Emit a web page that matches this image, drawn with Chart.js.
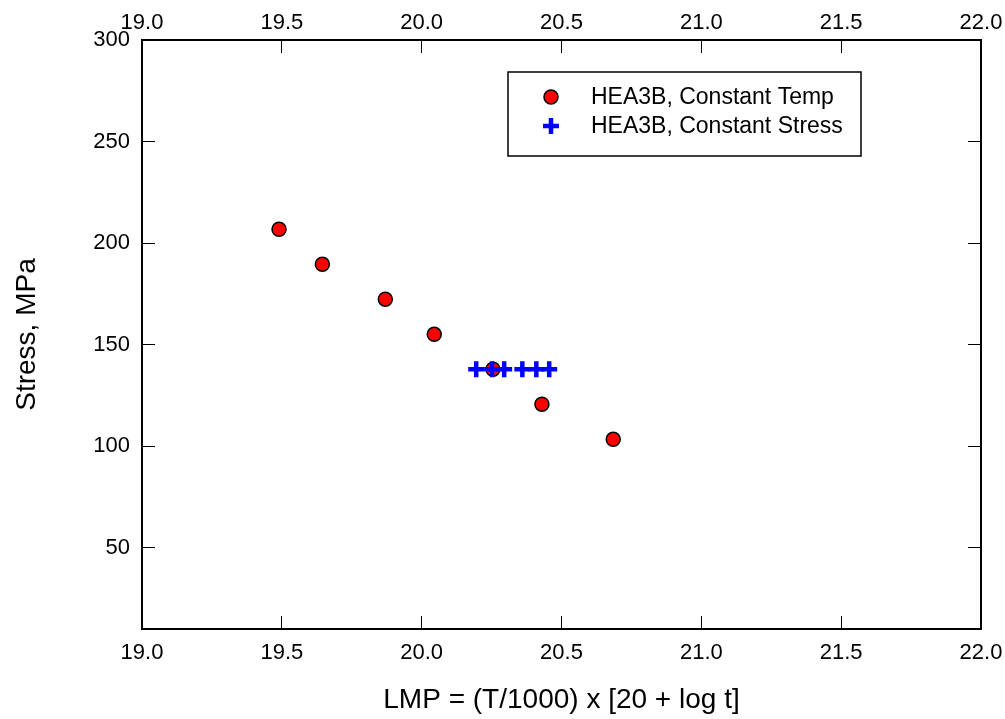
<!DOCTYPE html>
<html>
<head>
<meta charset="utf-8">
<script src="https://cdn.jsdelivr.net/npm/chart.js@4.4.1/dist/chart.umd.min.js"></script>
<style>
  html, body { margin: 0; background: #fff; }
  #wrap { width: 1005px; height: 719px; }
</style>
</head>
<body>
<div id="wrap"><canvas id="c"></canvas></div>
<script>
"use strict";
// Larson-Miller plot, HEA3B: constant-temperature vs constant-stress tests.

const X_TICKS = [19.0, 19.5, 20.0, 20.5, 21.0, 21.5, 22.0];
const Y_TICKS = [50, 100, 150, 200, 250, 300];

const CT_LABEL = "HEA3B, Constant Temp";
const CT_LMP = [19.49, 19.645, 19.87, 20.045, 20.255, 20.43, 20.685];
const CT_STRESS = [206.8, 189.6, 172.4, 155.1, 137.9, 120.7, 103.4];

const CS_LABEL = "HEA3B, Constant Stress";
const CS_LMP = [20.195, 20.252, 20.295, 20.36, 20.41, 20.456];
const CS_STRESS = [137.9, 137.9, 137.9, 137.9, 137.9, 137.9];

const FONT = '"Liberation Sans", Arial, sans-serif';
const pts = (xs, ys) => xs.map((x, i) => ({ x, y: ys[i] }));

// inward tick marks, no grid on the plot, 2px black frame
const axis = (pos, extra) => Object.assign({
  type: "linear", position: pos,
  grid: { drawOnChartArea: false, tickLength: -13, color: "#000", lineWidth: 1 },
  border: { display: true, color: "#000", width: 2 },
}, extra);

// fixed box sizes so the plot frame lands where the reference has it;
// zero the label overhang padding too (the end labels may run to the edge)
const fixH = (h) => (s) => { s.height = h; s.paddingLeft = 0; s.paddingRight = 0; };
const fixW = (w) => (s) => { s.width = w; s.paddingTop = 0; s.paddingBottom = 0; };

const legendBox = {
  id: "legendBox",
  afterDraw(chart) {
    const { ctx, chartArea: a } = chart;
    const x = a.left + 366, y = a.top + 32, w = 353, h = 84;
    ctx.save();
    ctx.lineWidth = 1.5;
    ctx.strokeStyle = "#000";
    ctx.strokeRect(x, y, w, h);
    ctx.font = "23px " + FONT;
    ctx.textBaseline = "middle";
    chart.data.datasets.forEach((ds, i) => {
      const cy = y + 25 + i * 29;
      ctx.fillStyle = ds.backgroundColor;
      ctx.strokeStyle = ds.borderColor;
      ctx.lineWidth = ds.borderWidth;
      Chart.helpers.drawPoint(ctx, { pointStyle: ds.pointStyle, radius: ds.pointRadius, borderWidth: ds.borderWidth, rotation: 0 }, x + 43, cy);
      ctx.fillStyle = "#000";
      ctx.fillText(ds.label, x + 83, cy + 1);
    });
    ctx.restore();
  },
};

const xTicks = (s) => { s.ticks = X_TICKS.map(v => ({ value: v })); };
const yTicks = (s) => { s.ticks = Y_TICKS.map(v => ({ value: v })); };

new Chart(document.getElementById("c"), {
  type: "scatter",
  data: {
    datasets: [
      {
        label: CT_LABEL, data: pts(CT_LMP, CT_STRESS), order: 2,
        pointStyle: "circle", pointRadius: 7, pointHoverRadius: 7,
        backgroundColor: "#ff0000", borderColor: "#000", borderWidth: 1.5,
      },
      {
        label: CS_LABEL, data: pts(CS_LMP, CS_STRESS), order: 1,   // crosses sit on top
        pointStyle: "cross", pointRadius: 8, pointHoverRadius: 8,
        backgroundColor: "#0000ff", borderColor: "#0000ff", borderWidth: 4.5,
      },
    ],
  },
  options: {
    responsive: true, maintainAspectRatio: false, animation: false,
    layout: { padding: 0 },
    scales: {
      x: axis("bottom", {
        min: 19, max: 22, afterBuildTicks: xTicks, afterFit: fixH(90),
        ticks: { callback: v => v.toFixed(1), color: "#000", font: { family: FONT, size: 22 }, padding: 24, maxRotation: 0 },
        title: { display: true, text: "LMP = (T/1000) x [20 + log t]", color: "#000", font: { family: FONT, size: 28 }, padding: { top: 2, bottom: 2 } },
      }),
      x2: axis("top", {
        min: 19, max: 22, afterBuildTicks: xTicks, afterFit: fixH(40),
        ticks: { callback: v => v.toFixed(1), color: "#000", font: { family: FONT, size: 22 }, padding: 17, maxRotation: 0 },
      }),
      y: axis("left", {
        min: 10, max: 300, afterBuildTicks: yTicks, afterFit: fixW(142),
        ticks: { color: "#000", font: { family: FONT, size: 22 }, padding: 25 },
        title: { display: true, text: "Stress, MPa", color: "#000", font: { family: FONT, size: 28 }, padding: { top: 10, bottom: 10 } },
      }),
      y2: axis("right", {
        min: 10, max: 300, afterBuildTicks: yTicks, afterFit: fixW(24),
        ticks: { display: false },
      }),
    },
    plugins: { legend: { display: false }, tooltip: { enabled: false } },
  },
  plugins: [legendBox],
});
</script>
</body>
</html>
